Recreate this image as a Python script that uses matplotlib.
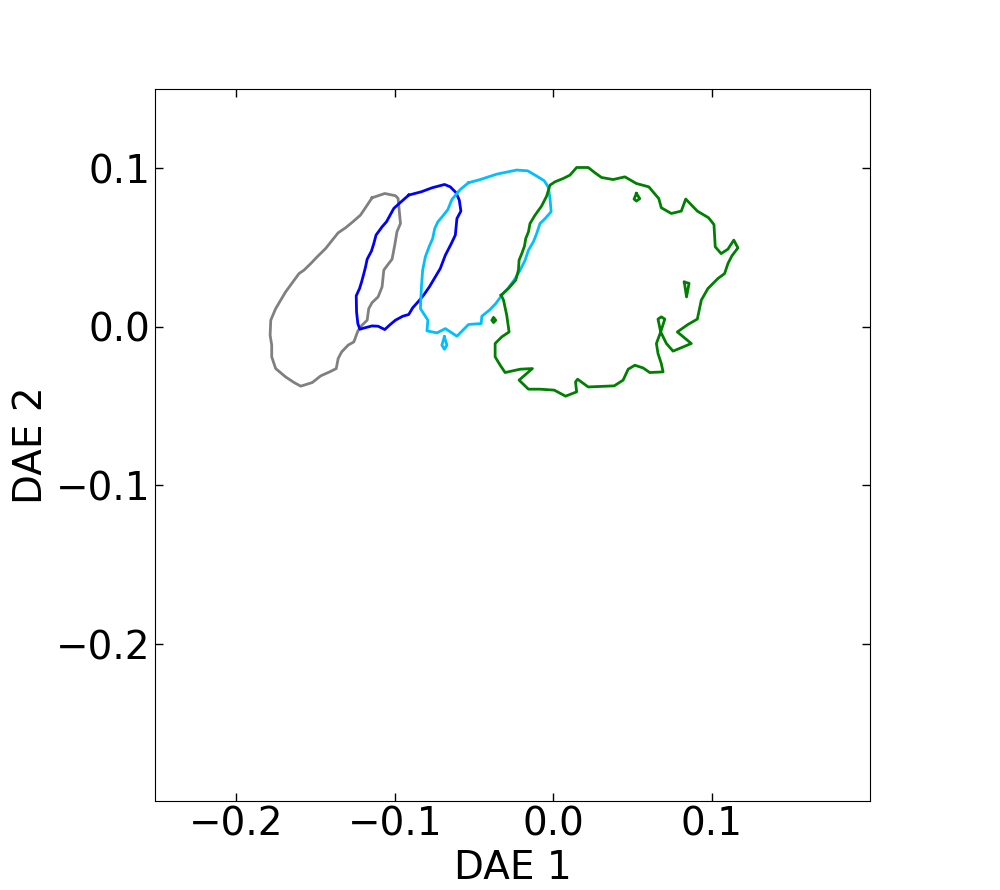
import numpy as np
import matplotlib
matplotlib.use("Agg")
import matplotlib.pyplot as plt

# contour outlines (DAE 1, DAE 2)
gray_x = [-0.1143, -0.1063, -0.0996, -0.0979, -0.0971, -0.0964, -0.0986, -0.1000, -0.1017, -0.1049,
          -0.1069, -0.1080, -0.1105, -0.1143, -0.1164, -0.1174, -0.1206, -0.1233, -0.1258, -0.1294,
          -0.1335, -0.1357, -0.1369, -0.1411, -0.1467, -0.1520, -0.1593, -0.1635, -0.1688, -0.1751,
          -0.1776, -0.1776, -0.1786, -0.1782, -0.1751, -0.1713, -0.1688, -0.1650, -0.1604, -0.1572,
          -0.1530, -0.1489, -0.1436, -0.1394, -0.1357, -0.1310, -0.1264, -0.1216, -0.1181]
gray_y = [0.0814, 0.0841, 0.0827, 0.0810, 0.0726, 0.0652, 0.0600, 0.0516, 0.0427, 0.0385,
          0.0358, 0.0252, 0.0189, 0.0153, 0.0115, 0.0042, 0.0011, -0.0027, -0.0095, -0.0115,
          -0.0158, -0.0200, -0.0263, -0.0284, -0.0309, -0.0351, -0.0374, -0.0351, -0.0316, -0.0263,
          -0.0189, -0.0115, -0.0052, 0.0042, 0.0115, 0.0179, 0.0221, 0.0273, 0.0336, 0.0358,
          0.0399, 0.0442, 0.0494, 0.0547, 0.0593, 0.0625, 0.0663, 0.0705, 0.0757]

blue_x = [-0.0912, -0.0832, -0.0765, -0.0686, -0.0650, -0.0614, -0.0593, -0.0583, -0.0608, -0.0618,
          -0.0643, -0.0681, -0.0713, -0.0748, -0.0782, -0.0818, -0.0853, -0.0887, -0.0912, -0.0950,
          -0.0996, -0.1033, -0.1063, -0.1105, -0.1143, -0.1189, -0.1220, -0.1233, -0.1241, -0.1243,
          -0.1222, -0.1209, -0.1195, -0.1184, -0.1174, -0.1147, -0.1132, -0.1118, -0.1080, -0.1052,
          -0.1027, -0.1006, -0.0964]
blue_y = [0.0831, 0.0852, 0.0877, 0.0898, 0.0883, 0.0847, 0.0799, 0.0730, 0.0683, 0.0579,
          0.0526, 0.0452, 0.0368, 0.0309, 0.0252, 0.0200, 0.0158, 0.0120, 0.0078, 0.0067,
          0.0042, 0.0011, -0.0017, 0.0004, 0.0006, -0.0006, -0.0015, 0.0021, 0.0095, 0.0196,
          0.0242, 0.0284, 0.0336, 0.0379, 0.0427, 0.0478, 0.0526, 0.0579, 0.0631, 0.0663,
          0.0709, 0.0747, 0.0785]

sky_x = [-0.0535, -0.0461, -0.0357, -0.0231, -0.0162, -0.0105, -0.0057, -0.0031, -0.0021, -0.0014,
         -0.0052, -0.0084, -0.0105, -0.0126, -0.0157, -0.0178, -0.0209, -0.0245, -0.0287, -0.0325,
         -0.0363, -0.0404, -0.0451, -0.0455, -0.0535, -0.0608, -0.0681, -0.0734, -0.0797, -0.0791,
         -0.0838, -0.0832, -0.0824, -0.0807, -0.0782, -0.0761, -0.0748, -0.0728, -0.0698, -0.0665,
         -0.0640, -0.0587]
sky_y = [0.0909, 0.0929, 0.0963, 0.0989, 0.0984, 0.0951, 0.0921, 0.0879, 0.0809, 0.0726,
         0.0683, 0.0652, 0.0589, 0.0536, 0.0484, 0.0421, 0.0358, 0.0298, 0.0242, 0.0200,
         0.0147, 0.0105, 0.0067, 0.0021, 0.0015, -0.0059, -0.0011, -0.0038, -0.0025, 0.0042,
         0.0115, 0.0252, 0.0358, 0.0442, 0.0509, 0.0557, 0.0620, 0.0663, 0.0698, 0.0740,
         0.0803, 0.0866]
sky_drop_x = [-0.0687, -0.0671, -0.0687, -0.0703]
sky_drop_y = [-0.0063, -0.0115, -0.0141, -0.0115]

green_x = [-0.0329, -0.0283, -0.0237, -0.0220, -0.0216, -0.0199, -0.0182, -0.0174, -0.0157, -0.0147,
           -0.0115, -0.0074, -0.0042, -0.0021, 0.0011, 0.0063, 0.0105, 0.0147, 0.0220, 0.0262,
           0.0304, 0.0377, 0.0451, 0.0524, 0.0602, 0.0665, 0.0681, 0.0744, 0.0807, 0.0835,
           0.0908, 0.0979, 0.1013, 0.1021, 0.1058, 0.1101, 0.1138, 0.1164, 0.1126, 0.1101,
           0.1080, 0.1038, 0.0975, 0.0933, 0.0908, 0.0849, 0.0782, 0.0870, 0.0755, 0.0713,
           0.0677, 0.0703, 0.0681, 0.0660, 0.0677, 0.0650, 0.0660, 0.0681, 0.0692, 0.0608,
           0.0566, 0.0514, 0.0472, 0.0440, 0.0384, 0.0220, 0.0153, 0.0140, 0.0147, 0.0077,
           0.0006, -0.0084, -0.0157, -0.0216, -0.0132, -0.0209, -0.0304, -0.0335, -0.0367, -0.0367,
           -0.0325, -0.0279, -0.0294, -0.0314]
green_y = [0.0200, 0.0242, 0.0295, 0.0358, 0.0421, 0.0462, 0.0509, 0.0557, 0.0599, 0.0652,
           0.0705, 0.0762, 0.0825, 0.0894, 0.0915, 0.0936, 0.0957, 0.1005, 0.1005, 0.0972,
           0.0942, 0.0929, 0.0946, 0.0904, 0.0883, 0.0809, 0.0751, 0.0715, 0.0730, 0.0806,
           0.0730, 0.0688, 0.0645, 0.0505, 0.0462, 0.0490, 0.0547, 0.0498, 0.0448, 0.0399,
           0.0336, 0.0305, 0.0242, 0.0168, 0.0049, 0.0015, -0.0032, -0.0105, -0.0153, -0.0105,
           -0.0032, 0.0049, 0.0063, 0.0049, -0.0032, -0.0105, -0.0168, -0.0232, -0.0284, -0.0288,
           -0.0259, -0.0242, -0.0267, -0.0336, -0.0372, -0.0379, -0.0330, -0.0347, -0.0410, -0.0437,
           -0.0399, -0.0393, -0.0393, -0.0336, -0.0263, -0.0267, -0.0288, -0.0242, -0.0189, -0.0105,
           -0.0063, -0.0032, 0.0074, 0.0168]
green_a_x = [-0.0377, -0.0388, -0.0377, -0.0363]
green_a_y = [0.0057, 0.0042, 0.0027, 0.0042]
green_b_x = [0.0524, 0.0509, 0.0524, 0.0545]
green_b_y = [0.0841, 0.0806, 0.0793, 0.0809]
green_c_x = [0.0826, 0.0856, 0.0840]
green_c_y = [0.0282, 0.0275, 0.0189]

xticks = [-0.2, -0.1, 0.0, 0.1]
yticks = [-0.2, -0.1, 0.0, 0.1]


def closed(xs, ys):
    return np.append(xs, xs[0]), np.append(ys, ys[0])


plt.rcParams["xtick.direction"] = "in"
plt.rcParams["ytick.direction"] = "in"
plt.rcParams["xtick.top"] = True
plt.rcParams["ytick.right"] = True

fig, ax = plt.subplots(figsize=(10, 8.9), dpi=100)
fig.subplots_adjust(left=0.125, right=0.9, bottom=0.1, top=0.9)

lw = 2
for xs, ys, c in [(gray_x, gray_y, "gray"),
                  (blue_x, blue_y, "#0000ff"),
                  (sky_x, sky_y, "#00bfff"),
                  (sky_drop_x, sky_drop_y, "#00bfff"),
                  (green_x, green_y, "#008000"),
                  (green_a_x, green_a_y, "#008000"),
                  (green_b_x, green_b_y, "#008000"),
                  (green_c_x, green_c_y, "#008000")]:
    cx, cy = closed(xs, ys)
    ax.plot(cx, cy, color=c, lw=lw)

ax.set_xlim(-0.251, 0.1995)
ax.set_ylim(-0.299, 0.15)
ax.set_aspect("equal")
ax.set_xticks(xticks)
ax.set_yticks(yticks)
ax.tick_params(labelsize=28, length=6, width=1)
ax.set_xlabel("DAE 1", fontsize=28)
ax.set_ylabel("DAE 2", fontsize=28)

fig.savefig("out.png", dpi=100)
